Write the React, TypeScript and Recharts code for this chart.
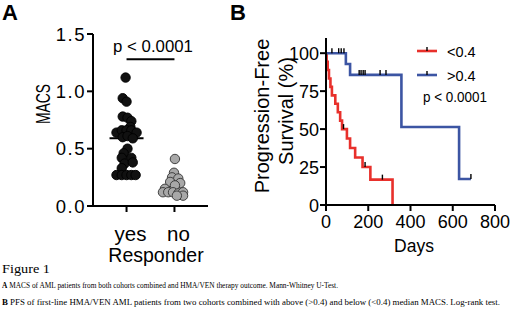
import { ComposedChart, Line, ReferenceLine, Scatter, XAxis, YAxis } from 'recharts';

// panel A: MACS by responder status
const responders = ['yes', 'no'];
const macsTicks = [0, 0.5, 1.0, 1.5];
const yesX = [0.98, 0.92, 1.0, 0.92, 1.02, 1.1, 1.08, 0.79, 0.9, 1.0, 1.1, 1.21, 0.92, 1.02, 1.13, 1.02, 0.94, 0.9, 1.1, 0.96, 1.13, 0.9, 0.79, 0.9, 1.0, 1.1, 1.19];
const yesMacs = [1.12, 0.94, 0.91, 0.78, 0.77, 0.74, 0.69, 0.64, 0.66, 0.66, 0.66, 0.64, 0.6, 0.61, 0.59, 0.5, 0.46, 0.42, 0.42, 0.37, 0.38, 0.33, 0.27, 0.27, 0.27, 0.27, 0.27];
const noX = [2.01, 1.99, 1.95, 2.08, 2.12, 1.91, 2.01, 1.8, 1.76, 1.87, 1.97, 2.08, 2.18, 2.18, 2.05];
const noMacs = [0.41, 0.29, 0.25, 0.24, 0.2, 0.21, 0.18, 0.15, 0.12, 0.12, 0.12, 0.11, 0.12, 0.09, 0.09];
// only the responder median line is visible in the figure
const medianMacs = [0.59];

// panel B: Kaplan-Meier PFS, below (<0.4) and above (>0.4) median MACS
const dayTicks = [0, 200, 400, 600, 800];
const pfsTicks = [0, 25, 50, 75, 100];
const lowDays = [0, 3, 8, 14, 21, 28, 44, 56, 67, 76, 99, 114, 138, 173, 210, 315];
const lowPfs = [100, 94.4, 88.9, 83.3, 77.8, 72.2, 66.7, 61.1, 55.6, 50, 43.8, 37.5, 31.3, 25, 16.7, 0];
const lowCensorDays = [83, 185, 267];
const lowCensorPfs = [50, 25, 16.7];
const highDays = [0, 94, 114, 357, 630, 686];
const highPfs = [100, 92.9, 85.7, 51.4, 17.1, 17.1];
const highCensorDays = [28, 60, 72, 85, 157, 166, 176, 185, 256, 284, 686];
const highCensorPfs = [100, 100, 100, 100, 85.7, 85.7, 85.7, 85.7, 85.7, 85.7, 17.1];

const SANS = 'Arial, "Liberation Sans", Helvetica, sans-serif';
const SERIF = '"Liberation Serif", "Times New Roman", serif';
const RED = '#e8302b';
const BLUE = '#3c55a3';

const pts = (xs: number[], ys: number[]) => xs.map((x, i) => ({ x, y: ys[i] }));
const km = (xs: number[], ys: number[]) => xs.map((day, i) => ({ day, pct: ys[i] }));

const axisStyle = { stroke: '#000', strokeWidth: 2 };

const dot = (fill: string, stroke: string) => (p: any) => (
  <circle cx={p.cx} cy={p.cy} r={4.7} fill={fill} stroke={stroke} strokeWidth={0.9} />
);
const medianBar = (p: any) => (
  <line x1={p.cx - 17} x2={p.cx + 17} y1={p.cy} y2={p.cy} stroke="#000" strokeWidth={2} />
);
const censor = (p: any) => (
  <line x1={p.cx} x2={p.cx} y1={p.cy - 5} y2={p.cy} stroke="#000" strokeWidth={1.4} />
);

function PanelA() {
  return (
    <ComposedChart width={215} height={265} margin={{ top: 34, right: 7, bottom: 19, left: 0 }}>
      <XAxis
        type="number"
        dataKey="x"
        domain={[0.3, 2.7]}
        ticks={[1, 2]}
        height={40}
        tickSize={6}
        tickMargin={2}
        axisLine={axisStyle}
        tickLine={axisStyle}
        tick={(p: any) => (
          <text x={p.x + 4} y={p.y} dy={27} textAnchor="middle" fontSize={20.5} fontFamily={SANS} fill="#000">
            {responders[Math.round(p.payload.value) - 1]}
          </text>
        )}
      />
      <YAxis
        type="number"
        dataKey="y"
        domain={[0, 1.5]}
        ticks={macsTicks}
        width={93}
        tickSize={6}
        tickMargin={1}
        axisLine={axisStyle}
        tickLine={axisStyle}
        tick={(p: any) => (
          <text x={p.x} y={p.y} dy={6.5} textAnchor="end" fontSize={18.5} letterSpacing={1.5} fontFamily={SANS} fill="#000">
            {Number(p.payload.value).toFixed(1)}
          </text>
        )}
      />
      <ReferenceLine
        segment={[{ x: 1, y: 1.28 }, { x: 2, y: 1.28 }]}
        stroke="#000"
        strokeWidth={2}
      />
      <Scatter data={pts([1], medianMacs)} shape={medianBar} isAnimationActive={false} />
      <Scatter data={pts(yesX, yesMacs)} shape={dot('#111', '#000')} isAnimationActive={false} />
      <Scatter data={pts(noX, noMacs)} shape={dot('#a8a8a8', '#333')} isAnimationActive={false} />
    </ComposedChart>
  );
}

function PanelB() {
  return (
    <ComposedChart width={250} height={265} margin={{ top: 38, right: 15, bottom: 20, left: 0 }}>
      <XAxis
        type="number"
        dataKey="day"
        domain={[0, 800]}
        ticks={dayTicks}
        height={40}
        tickSize={6}
        tickMargin={2}
        axisLine={axisStyle}
        tickLine={axisStyle}
        tick={(p: any) => (
          <text x={p.x} y={p.y} dy={14.7} textAnchor="middle" fontSize={18} fontFamily={SANS} fill="#000">
            {p.payload.value}
          </text>
        )}
      />
      <YAxis
        type="number"
        dataKey="pct"
        domain={[0, 110]}
        ticks={pfsTicks}
        width={66}
        tickSize={6}
        tickMargin={1}
        axisLine={axisStyle}
        tickLine={axisStyle}
        tick={(p: any) => (
          <text x={p.x} y={p.y} dy={6.8} textAnchor="end" fontSize={18} fontFamily={SANS} fill="#000">
            {p.payload.value}
          </text>
        )}
      />
      <Line data={km(lowDays, lowPfs)} dataKey="pct" type="stepAfter" stroke={RED} strokeWidth={2.6} dot={false} isAnimationActive={false} />
      <Line data={km(highDays, highPfs)} dataKey="pct" type="stepAfter" stroke={BLUE} strokeWidth={2.6} dot={false} isAnimationActive={false} />
      <Scatter data={km(lowCensorDays, lowCensorPfs)} dataKey="pct" shape={censor} isAnimationActive={false} />
      <Scatter data={km(highCensorDays, highCensorPfs)} dataKey="pct" shape={censor} isAnimationActive={false} />
    </ComposedChart>
  );
}

export default function App() {
  return (
    <div style={{ position: 'absolute', left: 0, top: 0, width: 520, height: 315, background: '#fff', overflow: 'hidden' }}>
      <div style={{ position: 'absolute', left: 0, top: 0 }}>
        <PanelA />
      </div>
      <div style={{ position: 'absolute', left: 260, top: 0 }}>
        <PanelB />
      </div>
      <svg width={520} height={315} style={{ position: 'absolute', left: 0, top: 0, pointerEvents: 'none' }} fontFamily={SANS}>
        <text x={2} y={20} fontSize={22} fontWeight="bold">A</text>
        <text x={230} y={20} fontSize={22} fontWeight="bold">B</text>
        <text transform="translate(50,104) rotate(-90)" textAnchor="middle" fontSize={20} textLength={40} lengthAdjust="spacingAndGlyphs">MACS</text>
        <text x={156} y={262} textAnchor="middle" fontSize={19.5}>Responder</text>
        <text x={153} y={51.7} textAnchor="middle" fontSize={16.8}>p &lt; 0.0001</text>

        <text transform="translate(269,116) rotate(-90)" textAnchor="middle" fontSize={20}>Progression-Free</text>
        <text transform="translate(293,111) rotate(-90)" textAnchor="middle" fontSize={20}>Survival (%)</text>
        <text x={414} y={252} textAnchor="middle" fontSize={17.5}>Days</text>

        <line x1={417} x2={437} y1={51} y2={51} stroke={RED} strokeWidth={2.6} />
        <line x1={427} x2={427} y1={47} y2={51} stroke="#000" strokeWidth={1.4} />
        <text x={447} y={56.5} fontSize={14.5}>&lt;0.4</text>
        <line x1={417} x2={437} y1={75} y2={75} stroke={BLUE} strokeWidth={2.6} />
        <line x1={427} x2={427} y1={71} y2={75} stroke="#000" strokeWidth={1.4} />
        <text x={447} y={80.5} fontSize={14.5}>&gt;0.4</text>
        <text x={423} y={101.7} fontSize={14} textLength={64} lengthAdjust="spacingAndGlyphs">p &lt; 0.0001</text>

        <g fontFamily={SERIF} fill="#000">
          <text x={2} y={273} fontSize={13} textLength={48} lengthAdjust="spacingAndGlyphs">Figure 1</text>
          <text x={2} y={288} fontSize={8.6} textLength={336} lengthAdjust="spacingAndGlyphs">
            <tspan fontWeight="bold">A</tspan> MACS of AML patients from both cohorts combined and HMA/VEN therapy outcome. Mann-Whitney U-Test.
          </text>
          <text x={2} y={305} fontSize={8.6} textLength={498} lengthAdjust="spacingAndGlyphs">
            <tspan fontWeight="bold">B</tspan> PFS of first-line HMA/VEN AML patients from two cohorts combined with above (&gt;0.4) and below (&lt;0.4) median MACS. Log-rank test.
          </text>
        </g>
      </svg>
    </div>
  );
}
